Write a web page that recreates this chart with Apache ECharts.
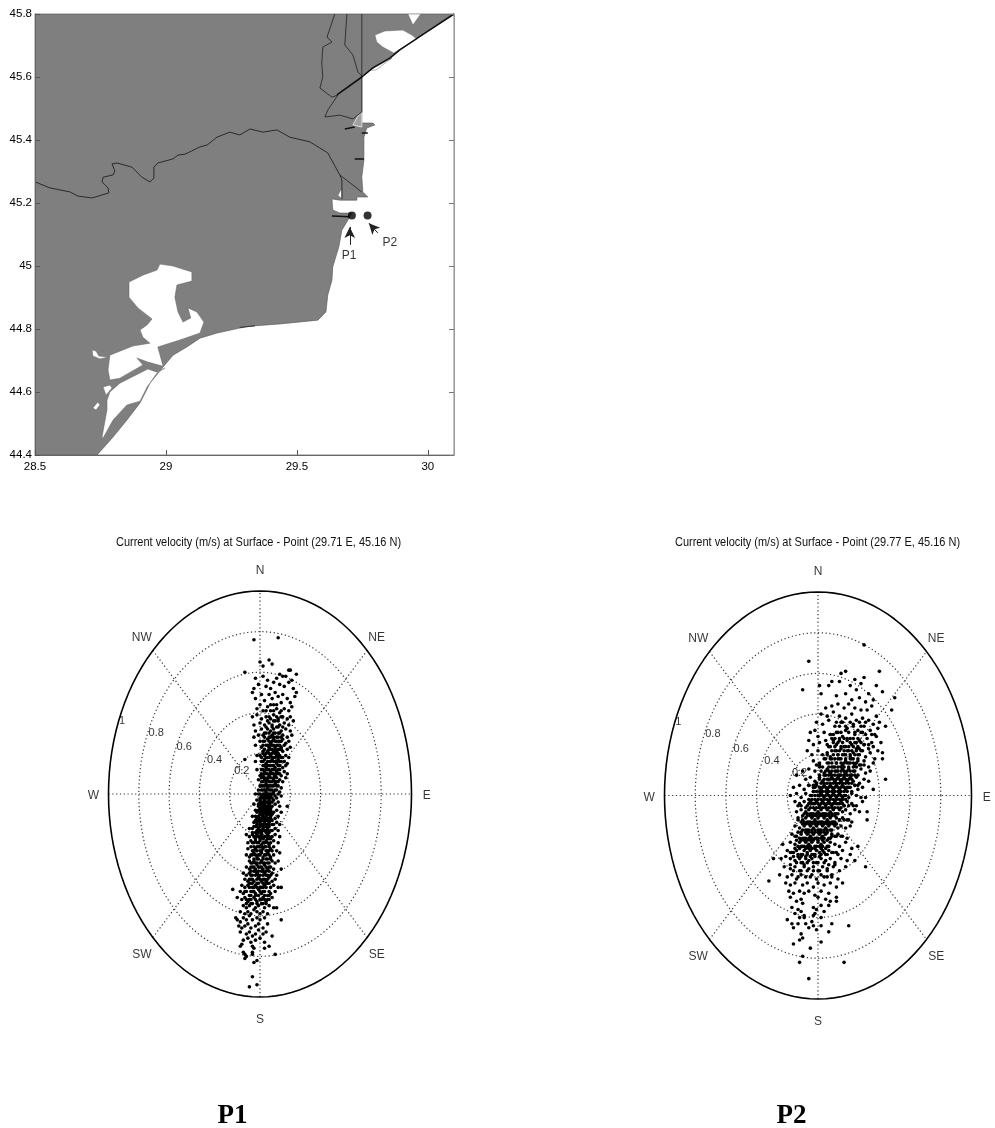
<!DOCTYPE html>
<html><head><meta charset="utf-8">
<style>html,body{margin:0;padding:0;background:#fff}#c{width:995px;height:1128px}</style>
<script src="https://cdn.jsdelivr.net/npm/echarts@6/dist/echarts.min.js"></script>
</head><body><div id="c"></div>
<script>
// ---- map data, lon / lat degrees ----
const landOutline=[[30.1,45.8],[29.996,45.743],[29.893,45.686],[29.855,45.66],[29.79,45.629],[29.748,45.6],[29.748,45.489],[29.748,45.454],[29.79,45.454],[29.798,45.448],[29.767,45.438],[29.756,45.409],[29.756,45.336],[29.748,45.282],[29.752,45.235],[29.771,45.219],[29.729,45.219],[29.729,45.209],[29.664,45.209],[29.634,45.213],[29.637,45.178],[29.664,45.168],[29.71,45.168],[29.691,45.14],[29.672,45.114],[29.66,45.06],[29.637,44.997],[29.634,44.955],[29.618,44.908],[29.611,44.854],[29.58,44.828],[29.435,44.816],[29.321,44.809],[29.282,44.803],[29.195,44.787],[29.13,44.771],[29.08,44.743],[29.027,44.717],[28.989,44.679],[28.939,44.628],[28.901,44.565],[28.851,44.511],[28.798,44.457],[28.737,44.4],[28.5,44.4],[28.5,45.8]];
const razelm=[[28.977,45.006],[29.027,45],[29.099,44.981],[29.099,44.952],[29.042,44.94],[29.034,44.901],[29.046,44.854],[29.065,44.822],[29.095,44.835],[29.084,44.867],[29.118,44.854],[29.145,44.822],[29.13,44.787],[29.053,44.765],[28.969,44.743],[28.989,44.682],[28.931,44.695],[28.889,44.708],[28.912,44.686],[28.824,44.644],[28.786,44.638],[28.779,44.67],[28.786,44.717],[28.874,44.746],[28.939,44.755],[28.912,44.774],[28.901,44.797],[28.928,44.813],[28.947,44.832],[28.893,44.867],[28.859,44.901],[28.859,44.949],[28.912,44.971],[28.966,44.987]];
const sinoe=[[28.996,44.676],[28.966,44.663],[28.931,44.673],[28.824,44.628],[28.786,44.6],[28.775,44.574],[28.775,44.543],[28.756,44.457],[28.76,44.454],[28.798,44.511],[28.851,44.559],[28.901,44.571],[28.928,44.616],[28.966,44.66]];
const pondA=[[28.76,44.616],[28.786,44.622],[28.794,44.613],[28.771,44.59]];
const pondB=[[28.74,44.568],[28.748,44.559],[28.733,44.543],[28.721,44.549]];
const pondC=[[28.718,44.733],[28.733,44.73],[28.744,44.714],[28.779,44.711],[28.748,44.705],[28.721,44.714]];
const sasyk=[[29.798,45.733],[29.836,45.746],[29.905,45.749],[29.939,45.733],[29.958,45.721],[29.87,45.676],[29.828,45.695],[29.805,45.711]];
const pondD=[[29.924,45.8],[29.943,45.765],[29.973,45.8]];
const pondE=[[29.779,45.622],[29.836,45.648],[29.863,45.66],[29.802,45.622]];
const pondF=[[29.657,45.225],[29.672,45.248],[29.672,45.213]];
const shoal=[[29.714,45.448],[29.733,45.476],[29.748,45.486],[29.748,45.441]];
const riverMain=[[28.5,45.267],[28.557,45.248],[28.634,45.235],[28.664,45.222],[28.718,45.216],[28.782,45.232],[28.779,45.248],[28.756,45.267],[28.76,45.282],[28.798,45.289],[28.805,45.302],[28.794,45.324],[28.813,45.327],[28.87,45.314],[28.908,45.282],[28.939,45.267],[28.954,45.279],[28.954,45.314],[28.969,45.327],[29.027,45.34],[29.046,45.352],[29.073,45.355],[29.13,45.378],[29.157,45.384],[29.195,45.409],[29.244,45.425],[29.282,45.416],[29.321,45.435],[29.37,45.425],[29.424,45.432],[29.473,45.409],[29.55,45.394],[29.618,45.359],[29.664,45.289],[29.672,45.273],[29.672,45.213]];
const riverBranch=[[29.664,45.289],[29.748,45.235]];
const armWest=[[29.645,45.8],[29.615,45.727],[29.634,45.711],[29.599,45.695],[29.595,45.644],[29.599,45.6],[29.588,45.565],[29.634,45.536],[29.657,45.543],[29.618,45.495],[29.607,45.473],[29.664,45.479],[29.714,45.467],[29.748,45.489]];
const armEast=[[29.691,45.8],[29.683,45.702],[29.714,45.67],[29.733,45.616],[29.748,45.603]];
const borderLine=[[29.748,45.8],[29.748,45.489]];
const barrier=[[30.1,45.8],[29.996,45.743],[29.893,45.686],[29.855,45.66],[29.79,45.629],[29.748,45.6],[29.653,45.543]];
const jetties=[[[29.683,45.435],[29.721,45.441]],[[29.721,45.34],[29.756,45.34]],[[29.748,45.422],[29.771,45.422]],[[29.634,45.159],[29.702,45.156]]];
const shoreMark=[[29.282,44.805],[29.34,44.81]];
const stations=[[29.71,45.16,'P1'],[29.77,45.16,'P2']];
const stationLabels=[[29.699,45.032,'P1'],[29.855,45.073,'P2']];
const stationArrows=[[[29.702,45.067],[29.702,45.124]],[[29.809,45.105],[29.775,45.136]]];
const xTickValues=[28.5,29,29.5,30];
// ---- polar plot furniture ----
const ringValues=[0.2,0.4,0.6,0.8];
const compass=[['N',0,1.1],['NE',.77,.77],['E',1.1,-.01],['SE',.77,-.79],['S',0,-1.11],['SW',-.78,-.79],['W',-1.1,-.01],['NW',-.78,.77]];
const ringLabels=[['1',-.91,.36],['0.8',-.685,.30],['0.6',-.5,.23],['0.4',-.3,.17],['0.2',-.12,.113]];
const titleP1='Current velocity (m/s) at Surface - Point (29.71 E, 45.16 N)';
const titleP2='Current velocity (m/s) at Surface - Point (29.77 E, 45.16 N)';
// ---- current velocity, east,north pairs, cm/s ----
const p1Velocity=[-4,76,12,77,-10,60,6,66,0,65,8,64,2,63,24,59,19,61,20,61,15,58,13,59,
-3,57,2,58,5,56,11,57,17,58,21,56,9,55,-5,50,-4,52,-1,54,4,53,7,52,13,54,16,53,19,55,22,52,10,50,6,49,1,49,-3,47,3,46,8,47,12,48,15,49,18,47,23,48,20,45,14,45,9,44,5,43,0,44,-2,42,2,41,7,41,11,42,16,42,19,41,21,43,13,40,24,50,
-5,38,-2,39,1,37,4,38,7,37,9,39,12,37,15,38,18,37,20,38,-4,34,0,35,3,34,6,35,8,34,10,36,13,34,16,35,19,34,22,36,-3,31,1,32,5,32,7,31,9,32,11,33,14,31,17,32,20,31,-4,28,-1,29,2,29,4,30,6,28,8,29,10,30,12,28,13,30,15,29,18,28,21,29,0,26,3,26,5,27,7,25,9,27,11,26,13,26,15,27,17,25,19,26,-3,24,1,23,4,24,6,23,8,24,10,23,12,24,14,23,16,24,18,22,2,21,5,21,7,22,9,21,11,21,13,22,15,21,20,23,
-2,19,0,19,3,19,5,18,7,19,9,18,11,19,13,19,15,18,17,19,19,18,-3,16,1,16,3,17,4,15,6,16,8,17,10,16,12,17,14,16,16,16,18,15,2,14,4,13,6,14,8,14,10,13,11,15,13,14,15,13,17,14,-10,17,-2,12,1,12,3,11,5,12,7,11,9,12,11,11,13,12,16,11,18,10,0,9,2,9,4,10,6,9,8,10,10,9,12,10,14,9,-1,7,1,6,3,7,5,7,7,6,9,7,11,6,13,7,15,6,17,8,0,4,2,4,4,5,6,4,8,4,10,5,12,4,14,3,-1,2,1,2,3,2,5,3,7,2,9,1,11,2,13,1,
-3,0,-1,0,1,-1,2,0,3,-1,4,1,5,-1,6,0,7,-1,8,0,10,-1,12,0,14,-1,-2,-3,0,-3,1,-2,2,-4,3,-3,4,-2,5,-4,6,-3,7,-2,8,-4,9,-3,11,-2,12,-4,-4,-5,-1,-5,0,-6,1,-5,2,-6,3,-5,4,-7,5,-6,6,-5,7,-7,8,-6,10,-5,13,-6,18,-6,-3,-8,-1,-8,0,-9,1,-8,2,-9,3,-8,4,-9,5,-8,6,-9,7,-8,9,-9,11,-8,14,-9,-5,-11,-3,-11,-1,-11,0,-12,1,-10,2,-11,3,-12,4,-11,5,-10,6,-12,7,-11,8,-10,10,-12,12,-11,-4,-14,-2,-14,-1,-13,0,-14,1,-13,2,-15,3,-14,4,-13,5,-15,6,-14,7,-13,9,-15,11,-14,13,-15,-7,-17,-5,-17,-3,-16,-1,-17,0,-16,1,-18,2,-17,3,-16,4,-18,5,-17,6,-16,8,-18,10,-17,12,-18,
-9,-20,-7,-21,-5,-20,-3,-21,-2,-20,0,-21,1,-20,2,-22,3,-21,5,-20,6,-22,8,-21,10,-20,13,-21,-8,-24,-6,-23,-4,-24,-3,-23,-1,-24,0,-23,1,-25,3,-24,4,-23,6,-25,7,-24,9,-23,12,-24,-8,-27,-6,-26,-5,-28,-3,-27,-1,-26,0,-28,2,-27,3,-26,5,-28,7,-27,9,-26,11,-28,-9,-30,-7,-31,-5,-30,-4,-29,-2,-31,-1,-30,1,-29,2,-31,4,-30,5,-29,7,-31,9,-30,13,-29,-7,-33,-6,-34,-4,-33,-2,-34,-1,-32,1,-33,3,-34,4,-32,6,-34,8,-33,10,-34,12,-33,-9,-36,-7,-37,-5,-36,-3,-37,-2,-35,0,-36,2,-37,3,-35,5,-37,7,-36,9,-37,14,-37,-11,-39,-9,-40,-7,-39,-5,-40,-4,-38,-2,-39,0,-40,1,-38,3,-39,5,-40,6,-38,8,-39,11,-40,
-10,-42,-8,-43,-6,-42,-4,-43,-2,-42,-1,-41,1,-43,2,-42,4,-43,6,-41,8,-43,10,-42,-12,-45,-10,-46,-8,-45,-6,-44,-4,-46,-3,-45,-1,-44,1,-46,3,-45,5,-44,7,-46,9,-45,12,-46,-18,-47,-13,-48,-11,-49,-9,-48,-7,-50,-5,-48,-3,-49,-1,-47,1,-49,3,-48,5,-50,7,-49,10,-48,14,-46,-15,-51,-12,-52,-10,-51,-8,-53,-6,-52,-4,-51,-2,-53,0,-52,2,-51,4,-53,6,-52,8,-51,-11,-55,-9,-56,-7,-55,-5,-54,-3,-56,-1,-55,1,-54,3,-56,6,-55,9,-56,11,-56,-13,-58,-10,-59,-8,-58,-6,-59,-4,-57,-2,-58,0,-59,2,-58,5,-59,
-16,-61,-15,-62,-13,-63,-11,-61,-9,-62,-7,-60,-5,-62,-2,-61,0,-62,3,-61,14,-62,-14,-65,-12,-66,-10,-65,-8,-64,-6,-66,-3,-65,-1,-64,2,-66,5,-64,-13,-68,-9,-69,-7,-68,-5,-70,-3,-69,-1,-67,2,-69,4,-68,-11,-72,-8,-71,-6,-73,-3,-72,0,-71,3,-73,8,-70,-12,-74,-5,-75,-4,-76,
-13,-75,-11,-78,-10,-79,-9,-80,-5,-79,-5,-78,-10,-81,-4,-83,-2,-82,3,-76,6,-75,10,-79,-5,-90,-7,-95,-2,-94];
// dense core of the P1 cloud: north, then the east values seen on that row
const p1Core=[[44,7,11],[41,4,9,14],[38,6,11,14],[36,5,9,12],[33,4,8,12,15],[30,3,6,9,12],[28,3,7,9,11,14],[26,2,6,8,10,12,14],[24,2,5,7,9,11,13],[22,3,6,8,10,12,14],[20,2,4,6,8,10,12],[18,1,4,6,8,10,12,14],[16,2,5,7,9,11,13],[14,3,5,7,9,12],[12,2,4,6,8,10,12],[10,1,3,5,7,9,11,13],[8,1,3,5,7,9,11],[6,2,4,6,8,10,12],[4,1,3,5,7,9,11],[2,2,4,6,8,10],[0,0,3,5,7,9],[-2,0,2,3,5,6,8],[-4,0,1,3,4,6,7],[-6,-1,1,3,4,5,7],[-7,0,2,3,5,6],[-9,-2,1,3,5,7],[-10,0,2,4,6],[-12,-2,1,2,4,5,7],[-13,-3,2,3,5,6,8],[-15,-2,0,1,3,4,6,8],[-16,-4,-2,2,4,5],[-18,-2,0,2,3,5,7],[-19,-5,-3,-1,1,4,6],[-21,-4,-1,1,4,6],[-22,-3,0,2,5,7],[-24,-5,-2,2,3,5],[-26,-4,-2,0,1,4,6],[-28,-4,-2,1,4,6,8],[-30,-6,-3,0,3,6],[-32,-4,-2,2,5,7],[-34,-5,-3,0,2,5],[-36,-6,-4,-1,1,4,6],[-38,-6,-3,-1,2,4],[-40,-6,-3,-1,2,4,7],[-42,-7,-5,0,3,5],[-44,-7,-5,-2,2,4,6],[-46,-7,-5,-2,0,2,4],[-48,-10,-6,-4,0,2,6],[-50,-6,-3,-1,3,6],[-52,-9,-7,-3,1,3,5],[-54,-9,-6,-2,2,4]];
const p2Velocity=[-6,66,30,74,-10,52,15,60,18,61,40,61,30,58,24,57,38,54,42,51,50,48,48,42,44,34,1,54,7,54,2,50,42,21,42,18,44,8,36,3,31,-1,
9,56,14,56,21,54,25,52,28,55,33,50,36,47,12,49,18,50,22,47,27,48,31,46,5,43,9,44,13,45,17,43,20,45,24,43,28,42,32,42,35,44,38,39,2,40,6,39,10,41,14,39,18,38,22,40,25,37,29,38,33,37,36,35,40,36,-1,36,3,35,7,37,11,34,15,36,19,33,23,35,26,32,30,34,34,32,37,30,39,33,
-5,31,-2,32,0,29,4,31,8,30,10,27,13,31,16,29,18,32,21,28,24,30,27,27,29,31,32,28,35,26,38,29,-6,27,-3,25,1,26,5,27,7,24,9,28,12,25,14,27,17,24,19,27,22,25,25,26,27,23,30,25,33,23,36,24,39,22,41,26,
-7,22,-4,20,0,22,3,20,6,21,8,19,11,22,13,20,15,23,17,20,19,22,21,19,23,21,25,23,27,20,29,22,31,19,34,21,37,18,-3,17,1,16,4,18,7,16,9,18,12,16,14,18,16,15,18,17,20,16,22,18,24,15,26,17,28,15,30,17,33,14,36,16,
-14,10,-10,12,-6,13,-2,12,1,14,4,11,6,13,8,11,10,14,12,12,14,10,16,13,18,11,20,13,22,10,24,12,26,10,28,13,31,11,34,12,-8,8,-5,9,-2,7,1,9,3,7,5,10,7,8,9,9,11,7,13,9,15,7,17,9,19,7,21,9,23,7,25,9,27,6,30,8,33,7,
-16,4,-12,5,-9,3,-6,5,-3,4,-1,5,2,3,4,5,6,3,8,5,10,3,12,5,14,3,16,5,18,3,20,4,22,2,24,5,26,3,29,4,-18,0,-14,1,-11,-1,-8,1,-5,0,-3,2,0,0,2,1,4,-1,6,1,8,-1,10,1,12,-1,14,1,16,-1,18,0,20,-1,22,1,25,0,28,-1,
-15,-3,-12,-4,-9,-3,-7,-5,-5,-3,-3,-4,-1,-3,1,-5,3,-3,5,-5,7,-3,9,-5,11,-3,13,-4,15,-3,17,-5,19,-3,22,-4,25,-5,29,-3,-14,-8,-11,-7,-8,-8,-6,-7,-4,-9,-2,-7,0,-8,2,-7,4,-9,6,-7,8,-8,10,-7,12,-9,14,-7,16,-8,18,-7,21,-9,24,-7,27,-8,32,-8,32,-12,
-13,-11,-10,-12,-8,-11,-6,-13,-4,-11,-2,-12,0,-11,2,-13,4,-11,6,-12,8,-11,10,-13,12,-11,14,-12,16,-11,19,-12,22,-13,-15,-15,-12,-16,-9,-15,-7,-17,-5,-15,-3,-16,-1,-15,1,-17,3,-15,5,-16,7,-15,9,-17,11,-15,13,-16,15,-15,18,-16,21,-15,-17,-19,-14,-20,-11,-19,-9,-21,-7,-19,-5,-20,-3,-19,-1,-21,1,-19,3,-20,5,-19,7,-21,9,-19,11,-20,13,-19,16,-20,19,-21,-23,-24,
-18,-23,-15,-24,-12,-23,-10,-25,-8,-23,-6,-24,-4,-23,-2,-25,0,-23,2,-24,4,-23,6,-25,8,-23,11,-24,14,-25,18,-23,26,-25,22,-26,-20,-27,-17,-28,-14,-27,-11,-29,-9,-27,-7,-28,-5,-27,-3,-29,-1,-27,1,-28,3,-27,5,-29,7,-27,10,-28,13,-29,16,-27,21,-29,-29,-31,-24,-31,-21,-30,-18,-31,-15,-32,-12,-31,-10,-33,-8,-31,-6,-32,-4,-31,-1,-33,2,-31,5,-32,8,-31,11,-33,15,-31,19,-32,24,-32,
-22,-35,-18,-36,-15,-35,-12,-37,-9,-35,-6,-36,-3,-35,0,-37,3,-35,6,-36,10,-35,14,-37,18,-35,31,-35,-25,-39,-20,-40,-17,-39,-14,-41,-11,-39,-8,-40,-4,-39,-1,-41,2,-39,6,-40,9,-39,13,-41,-32,-42,-21,-43,-18,-44,-15,-43,-10,-44,-7,-43,-3,-45,0,-43,4,-44,8,-43,12,-45,16,-43,-19,-47,-16,-48,-12,-47,-9,-48,-6,-47,-2,-49,2,-47,7,-48,-18,-50,-14,-52,-11,-51,-10,-53,0,-50,5,-51,8,-52,12,-50,12,-52,
-17,-55,-13,-56,-11,-57,-3,-55,-1,-56,2,-54,4,-57,7,-54,-15,-58,-12,-60,-9,-59,-3,-59,-2,-58,-20,-61,-17,-63,-9,-60,-4,-62,2,-60,9,-63,20,-64,-16,-65,-13,-63,-8,-63,-6,-65,-3,-64,-1,-66,2,-64,7,-67,-11,-68,-10,-70,-12,-71,2,-72,-16,-73,-5,-75,-10,-79,-12,-82,17,-82,-6,-90];
// dense core of the P2 cloud: north, then the east values seen on that row
const p2Core=[[36,12,16,21,27,31],[34,14,18,23,28],[31,12,15,20,24,28],[30,8,10,31,35],[28,11,14,17,19,23,26],[26,10,13,16,21,24,28],[25,6,30,33],[24,8,11,15,18,20,23,26],[22,9,12,14,17,20,22,25,28],[20,6,10,13,16,18,21,24,26],[18,5,8,11,13,15,18,21,23,26],[16,6,9,12,15,17,19,21,23,25],[15,-1,1,27,30],[14,3,7,9,11,13,15,17,20,23,25],[12,2,5,7,9,11,13,15,17,19,21,23],[10,1,4,7,9,11,13,15,17,19,21,24],[8,1,4,6,8,10,12,14,16,18,20,22],[6,-1,2,4,6,8,10,12,14,16,18,20,22],[5,-6,-3,24,26],[4,-2,1,3,5,7,9,11,13,15,17,19,21],[2,-3,-1,1,3,5,7,9,11,13,15,17,19],[0,-4,-2,1,3,5,7,9,11,13,15,17],[-2,-6,-4,-2,0,2,4,6,8,10,12,14,16,18],[-4,-6,-4,-2,0,2,4,6,8,10,12,14,16],[-5,-13,-11,17,20,23],[-6,-8,-5,-3,-1,1,3,5,7,9,11,13,15],[-9,-9,-7,-5,-3,-1,1,3,5,7,9,11,13],[-10,-10,-7,-5,-3,-1,1,3,5,7,9,11],[-12,-13,14,17,20],[-13,-11,-9,-7,-5,-3,-1,1,3,5,7,9,11],[-14,-10,-8,-6,-4,-2,0,2,4,6,8,10,12],[-17,-10,-8,-6,-4,-2,0,2,4,6,8],[-18,-13,-11,-8,-6,-4,-2,0,2,4,6],[-20,-15,9,12,15],[-21,-12,-10,-8,-6,-4,-2,0,2,4,8],[-22,-14,-11,-9,-7,-5,-3,0,3,6],[-25,-13,-11,-9,-7,-5,-1,1,3,7],[-26,-15,-12,-8,-6,-4,-2,2,5],[-28,-18,-16,4,9,12],[-29,-13,-10,-7,-4,-2,2,6],[-30,-16,-13,-11,-8,-5,-2,1],[-33,-14,-11,-7,-3,0,4],[-34,-18,-9,7,11],[-37,-16,-11,-7,-3,1,6],[-40,-13,-5,4,9]];
// ---- helpers ----
const toPts=(f,rows)=>{const o=[];for(let i=0;i<f.length;i+=2)o.push([f[i]/100,f[i+1]/100]);
  rows.forEach(r=>{for(let j=1;j<r.length;j++)o.push([r[j]/100,r[0]/100]);});return o;};
const ring=r=>{const o=[];for(let a=0;a<=360;a+=3){o.push([r*Math.cos(a*Math.PI/180),r*Math.sin(a*Math.PI/180)]);}return o;};
const FONT='"Liberation Sans",Arial,sans-serif';
const series=[];
function poly(pts,fill,stroke,z,lw){
  series.push({type:'custom',xAxisIndex:0,yAxisIndex:0,z,silent:true,encode:{x:0,y:1},data:pts,clip:true,
    renderItem:(p,api)=>p.dataIndex!==0?null:({type:'polygon',shape:{points:pts.map(q=>api.coord(q))},style:{fill,stroke,lineWidth:lw}})});
}
function path(pts,color,width,z){
  series.push({type:'line',xAxisIndex:0,yAxisIndex:0,z,data:pts,showSymbol:false,symbol:'none',silent:true,animation:false,lineStyle:{color,width}});
}
poly(landOutline,'#7f7f7f','#555',1,.6);
[razelm,sinoe,pondA,pondB,pondC,sasyk,pondD,pondE,pondF].forEach(p=>poly(p,'#fff','#666',2,.5));
poly(shoal,'#a0a0a0','#ddd',2,1);
path(riverMain,'#2a2a2a',1,3);path(riverBranch,'#333',1,3);path(armWest,'#333',1,3);path(armEast,'#333',1,3);path(borderLine,'#333',1,3);
path(barrier,'#111',1.6,3);path(shoreMark,'#333',1,3);
jetties.forEach(j=>path(j,'#111',1.5,3));
series.push({type:'scatter',xAxisIndex:0,yAxisIndex:0,z:5,data:stations.map(s=>[s[0],s[1]]),symbol:'circle',symbolSize:8,itemStyle:{color:'#000'},silent:true});
series.push({type:'scatter',xAxisIndex:0,yAxisIndex:0,z:5,data:stationLabels,symbolSize:0,silent:true,
  label:{show:true,position:'inside',formatter:p=>p.data[2],color:'#000',fontSize:12,fontFamily:FONT}});
series.push({type:'line',xAxisIndex:0,yAxisIndex:0,z:5,data:[],silent:true,
  markLine:{silent:true,animation:false,symbol:['none','arrow'],symbolSize:[8,11],label:{show:false},lineStyle:{color:'#222',width:1,type:'solid'},
    data:stationArrows.map(a=>[{coord:a[0]},{coord:a[1]}])}});
function polarPlot(idx,flat,rows){
  const base={type:'line',xAxisIndex:idx,yAxisIndex:idx,showSymbol:false,symbol:'none',silent:true,animation:false,clip:false};
  const dots={color:'#333',width:1.2,type:[1.2,2.6]};
  ringValues.forEach(r=>series.push({...base,z:2,data:ring(r),lineStyle:dots}));
  [[[-1,0],[1,0]],[[0,-1],[0,1]],[[-.707,-.707],[.707,.707]],[[-.707,.707],[.707,-.707]]].forEach(d=>series.push({...base,z:2,data:d,lineStyle:dots}));
  series.push({...base,z:3,data:ring(1),lineStyle:{color:'#000',width:1.6}});
  series.push({type:'scatter',xAxisIndex:idx,yAxisIndex:idx,z:4,silent:true,data:toPts(flat,rows),symbol:'circle',symbolSize:3.6,itemStyle:{color:'#000',opacity:1},clip:false,large:false});
  series.push({type:'scatter',xAxisIndex:idx,yAxisIndex:idx,z:5,silent:true,clip:false,symbolSize:0,
    data:compass.map(c=>[c[1],c[2],c[0]]),label:{show:true,position:'inside',formatter:p=>p.data[2],color:'#000',fontSize:12,fontFamily:FONT}});
  series.push({type:'scatter',xAxisIndex:idx,yAxisIndex:idx,z:5,silent:true,clip:false,symbolSize:0,
    data:ringLabels.map(c=>[c[1],c[2],c[0]]),label:{show:true,position:'inside',formatter:p=>p.data[2],color:'#000',fontSize:11,fontFamily:FONT}});
}
polarPlot(1,p1Velocity,p1Core);
polarPlot(2,p2Velocity,p2Core);
const hiddenAxis=(i)=>({gridIndex:i,type:'value',min:-1,max:1,show:false});
const mapLabel={color:'#000',fontSize:11.5,fontFamily:FONT,margin:6};
const capStyle={fontSize:27,fontWeight:'bold',color:'#000',fontFamily:'"Liberation Serif",serif'};
const titleText=(text,x)=>({type:'text',x,y:542.5,scaleX:.845,z:10,silent:true,style:{text,fontSize:13,fontFamily:FONT,fill:'#111',textAlign:'center',textVerticalAlign:'middle',verticalAlign:'middle'}});
const chart=echarts.init(document.getElementById('c'),null,{renderer:'canvas'});
chart.setOption({
  animation:false,backgroundColor:'#fff',
  title:[
    {text:'P1',left:227.5,top:1098,textAlign:'center',textStyle:capStyle},
    {text:'P2',left:786.5,top:1098,textAlign:'center',textStyle:capStyle}
  ],
  graphic:[titleText(titleP1,258.5),titleText(titleP2,817.5)],
  grid:[
    {left:35,top:14,width:419,height:441,show:true,borderColor:'#888',borderWidth:1,backgroundColor:'#fff'},
    {left:108.5,top:591,width:303,height:406},
    {left:664.5,top:592,width:307,height:407}
  ],
  xAxis:[
    {gridIndex:0,type:'value',min:28.5,max:30.1,interval:.5,z:6,axisLine:{show:true,lineStyle:{color:'#666'}},axisTick:{show:true,inside:true,length:5,customValues:xTickValues,lineStyle:{color:'#555'}},splitLine:{show:false},axisLabel:{...mapLabel,customValues:xTickValues}},
    hiddenAxis(1),hiddenAxis(2)
  ],
  yAxis:[
    {gridIndex:0,type:'value',min:44.4,max:45.8,interval:.2,z:6,axisLine:{show:true,lineStyle:{color:'#666'}},axisTick:{show:true,inside:true,length:5,lineStyle:{color:'#555'}},splitLine:{show:false},axisLabel:{...mapLabel,margin:3}},
    hiddenAxis(1),hiddenAxis(2),
    {gridIndex:0,type:'value',position:'right',min:44.4,max:45.8,interval:.2,z:6,axisLine:{show:true,lineStyle:{color:'#999'}},axisTick:{show:true,inside:true,length:5,lineStyle:{color:'#777'}},splitLine:{show:false},axisLabel:{show:false}}
  ],
  series
});
</script></body></html>
